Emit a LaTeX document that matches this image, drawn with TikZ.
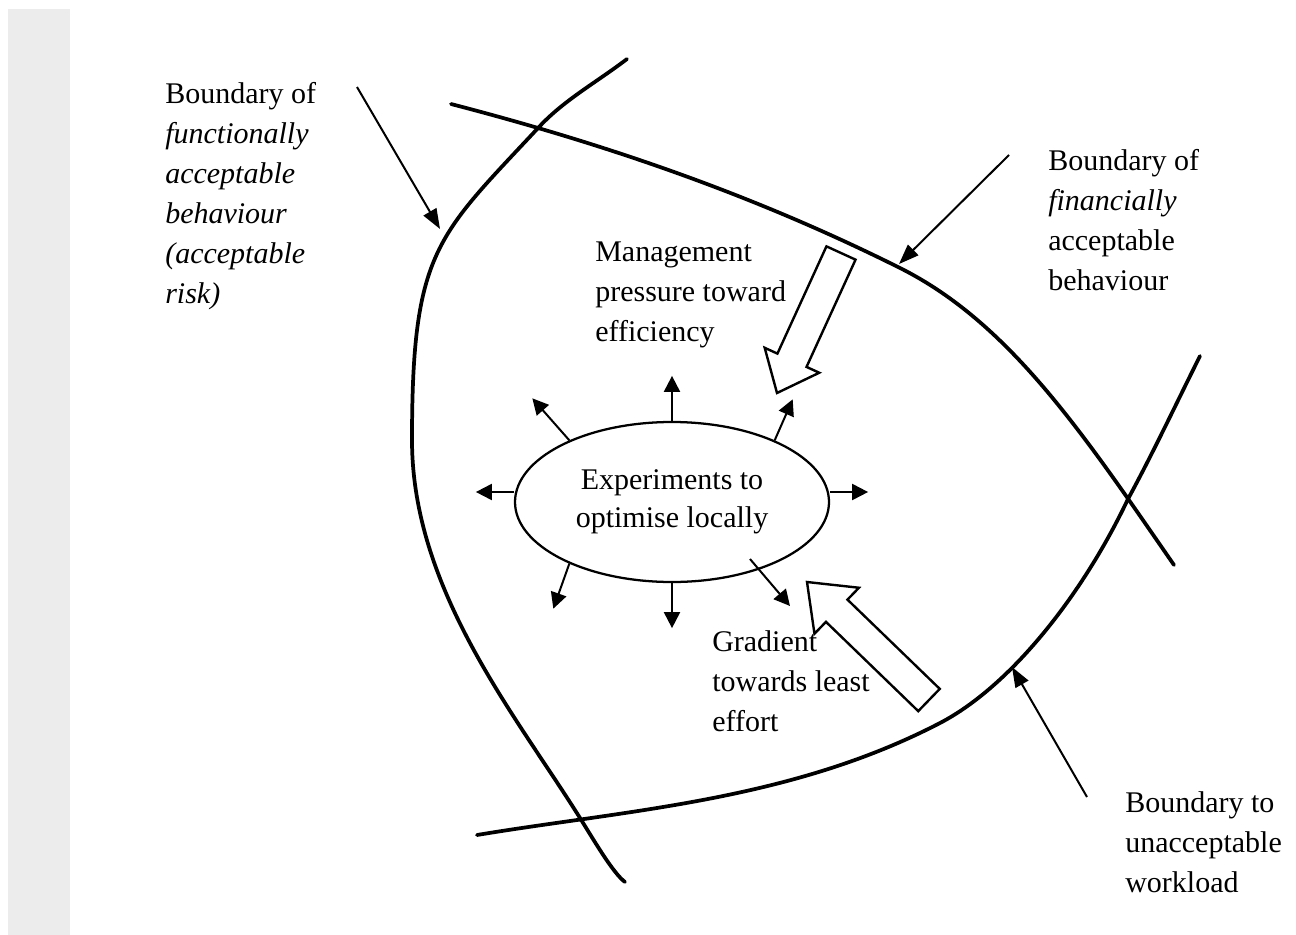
\documentclass[tikz,border=0pt]{standalone}
\usepackage{fontspec}
\setmainfont{Liberation Serif}
\usetikzlibrary{arrows.meta,shapes.geometric,calc}

% Outlined block arrow: #1 tail, #2 tip, #3 half shaft width, #4 half head width, #5 head length
\newcommand{\hollowarrow}[5]{%
  \coordinate (ha-neck) at ($(#2)!#5!(#1)$);
  \draw[hollow] ($(#1)!#3!90:(#2)$) -- ($(ha-neck)!#3!90:(#2)$)
    -- ($(ha-neck)!#4!90:(#2)$) -- (#2) -- ($(ha-neck)!#4!-90:(#2)$)
    -- ($(ha-neck)!#3!-90:(#2)$) -- ($(#1)!#3!-90:(#2)$) -- cycle;
}

\begin{document}
\begin{tikzpicture}[x=0.75pt,y=-0.75pt,
  boundary/.style={line width=2.8pt, line cap=round, line join=round},
  pointer/.style={line width=1.5pt, -{Triangle[length=15pt,width=11pt]}},
  probe/.style={line width=1.5pt, -{Triangle[length=12pt,width=12pt]}},
  hollow/.style={line width=1.8pt, line join=miter, fill=white},
  label/.style={font=\fontsize{22.5}{30}\selectfont, align=left, anchor=base west, inner sep=0pt},
]
\useasboundingbox (0,0) rectangle (1296,935);
\fill[white] (0,0) rectangle (1296,935);
\fill[gray!15] (8,9) rectangle (70,935);

% boundary of functionally acceptable behaviour
\draw[boundary] (627,59) .. controls (597,82) and (564,100) .. (539,127)
  .. controls (437,236.5) and (412,250) .. (412,440)
  .. controls (412,590) and (516.4,716) .. (580,818)
  .. controls (595,842) and (613,873) .. (625,882);
% boundary of financially acceptable behaviour
\draw[boundary] (451,104) .. controls (601,143) and (750,193) .. (900,268)
  .. controls (1010,323) and (1084,435) .. (1174,565);
% boundary to unacceptable workload
\draw[boundary] (477,835) .. controls (627,810) and (790,801) .. (940,723)
  .. controls (1010,686.5) and (1082,596) .. (1128,499)
  .. controls (1153,453) and (1175,406) .. (1200,356);

% labels (anchored at the baseline of their last line)
\node[label] (func) at (165,303) {Boundary of\\\textit{functionally}\\\textit{acceptable}\\\textit{behaviour}\\\textit{(acceptable}\\\textit{risk)}};
\node[label] (fin) at (1048,290) {Boundary of\\\textit{financially}\\acceptable\\behaviour};
\node[label] (mgmt) at (595,341) {Management\\pressure toward\\efficiency};
\node[label] (grad) at (712,731) {Gradient\\towards least\\effort};
\node[label] (work) at (1125,892) {Boundary to\\unacceptable\\workload};

% pointers from labels to boundaries
\coordinate (funcS) at (357,87);  \coordinate (funcT) at (440,229);
\coordinate (finS)  at (1009,155); \coordinate (finT) at (899,264);
\coordinate (workS) at (1087,797); \coordinate (workT) at (1012,667);
\draw[pointer] (funcS) -- (funcT);
\draw[pointer] (finS) -- (finT);
\draw[pointer] (workS) -- (workT);

% central ellipse with exploratory arrows
\node[ellipse, draw, line width=1.7pt, minimum width=235.5pt, minimum height=120pt,
      inner sep=0pt, align=center, font=\fontsize{22.5}{28.5}\selectfont] (exp) at (672,502)
  {Experiments to\\optimise locally};
\draw[probe] (exp.north) -- ++(0,-45);
\draw[probe] (exp.south) -- ++(0,45);
\draw[probe] ([yshift=7.5pt]exp.west) -- ++(-38,0);
\draw[probe] ([yshift=7.5pt]exp.east) -- ++(38,0);
\draw[probe] (exp.149) -- ++(-37,-42);
\draw[probe] (exp.31) -- ++(18,-41);
\draw[probe] (exp.211) -- ++(-16,45);
\draw[probe] ($(exp.center)+(78,57)$) -- ++(40,47);

% pressures acting on the operating point
\coordinate (mgmtTail) at (841,253); \coordinate (mgmtTip) at (777,393);
\hollowarrow{mgmtTail}{mgmtTip}{12pt}{22.5pt}{27pt}
\coordinate (gradTail) at (929,700); \coordinate (gradTip) at (807,582);
\hollowarrow{gradTail}{gradTip}{11.6pt}{24pt}{31pt}
\end{tikzpicture}
\end{document}
